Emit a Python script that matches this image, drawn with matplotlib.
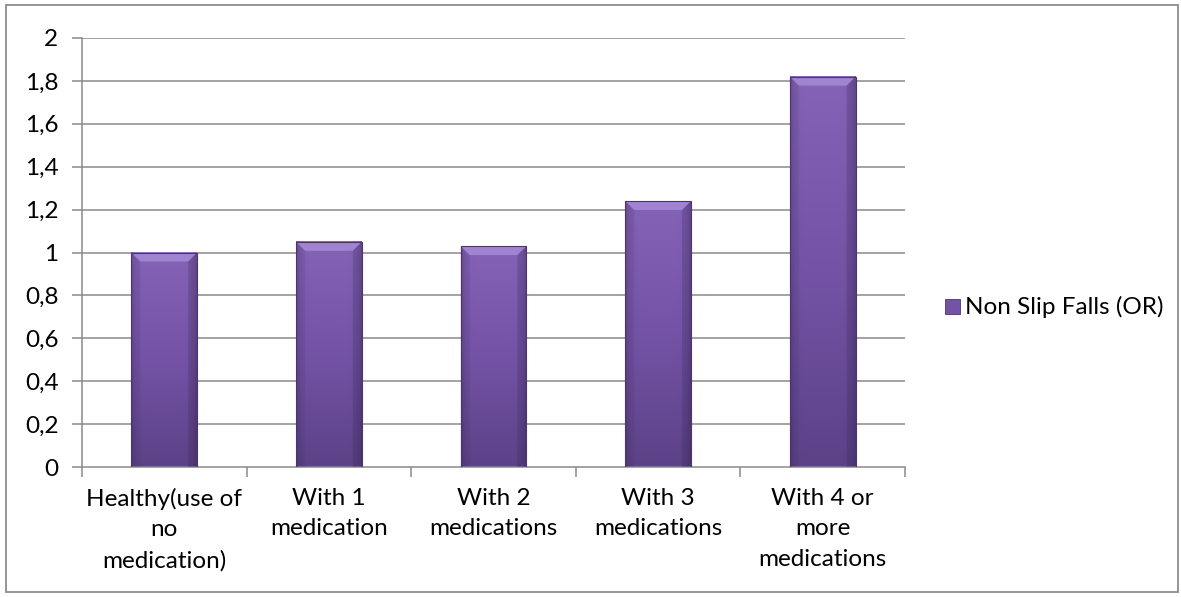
import matplotlib
matplotlib.use("Agg")
import matplotlib.pyplot as plt
import numpy as np
from matplotlib.patches import Rectangle, Polygon
from matplotlib.colors import LinearSegmentedColormap

categories = ["Healthy(use of\nno\nmedication)", "With 1\nmedication", "With 2\nmedications",
              "With 3\nmedications", "With 4 or\nmore\nmedications"]
values = [1.0, 1.05, 1.03, 1.24, 1.82]
series_name = "Non Slip Falls (OR)"
yticks = [0, 0.2, 0.4, 0.6, 0.8, 1.0, 1.2, 1.4, 1.6, 1.8, 2.0]

plt.rcParams["font.family"] = ["Lato", "DejaVu Sans"]
FS = 17.5

W, H = 1181, 597
fig = plt.figure(figsize=(W / 100, H / 100), dpi=100)
ax = fig.add_axes([82 / W, 1 - 467 / H, (905 - 82) / W, (467 - 38) / H])

# outer chart border
fig.patches.append(Rectangle((6 / W, 5 / H), 1172 / W, 587 / H, transform=fig.transFigure,
                             fill=False, edgecolor="#8c8c8c", linewidth=1.3))

ax.set_xlim(0, len(categories))
ax.set_ylim(0, 2)
grid_col = "#8a8a8a"
for t in yticks[1:]:
    ax.axhline(t, color=grid_col, linewidth=1.1, zorder=1)

cmap = LinearSegmentedColormap.from_list("bar", ["#5c4287", "#7453a6", "#8563b7"])
bar_w = 0.4
px_y = 2 / 429.0
px_x = len(categories) / 823.0
bevel = 9
x = np.arange(len(categories)) + 0.5
for xc, v in zip(x, values):
    x0, x1 = xc - bar_w / 2, xc + bar_w / 2
    # vertical gradient body with slightly darker sides
    grad = np.linspace(0, 1, 256).reshape(-1, 1)
    horiz = 1 - 0.18 * np.abs(np.linspace(-1, 1, 64)) ** 8
    img = cmap(grad * np.ones((1, 64)))
    img[..., :3] *= horiz[None, :, None]
    ax.imshow(img, extent=[x0, x1, 0, v], origin="lower", aspect="auto", zorder=2,
              interpolation="bilinear")
    # beveled top
    bx, by = bevel * px_x, bevel * px_y
    ax.add_patch(Polygon([(x0, v), (x1, v), (x1 - bx, v - by), (x0 + bx, v - by)],
                         closed=True, facecolor="#a084d2", edgecolor="none", zorder=3))
    ax.add_patch(Polygon([(x0, v), (x0 + bx, v - by), (x0 + bx, 0), (x0, 0)],
                         closed=True, facecolor="#4e3775", alpha=0.15, edgecolor="none", zorder=3))
    ax.add_patch(Polygon([(x1, v), (x1 - bx, v - by), (x1 - bx, 0), (x1, 0)],
                         closed=True, facecolor="#3d2a5e", alpha=0.25, edgecolor="none", zorder=3))
    ax.add_patch(Rectangle((x0, 0), bar_w, v, fill=False, edgecolor="#4a3570",
                           linewidth=0.8, zorder=4))

ax.set_xlim(0, len(categories))
ax.set_ylim(0, 2)
ax.set_yticks(yticks)
ax.set_yticklabels([("%g" % t).replace(".", ",") for t in yticks], fontsize=FS)
ax.set_xticks(np.arange(len(categories) + 1))
ax.set_xticklabels([])
ax.set_xticks(x, minor=True)
ax.set_xticklabels(categories, minor=True, fontsize=FS, linespacing=1.56, va="top")
ax.tick_params(axis="x", which="minor", length=0, pad=15)
ax.tick_params(axis="x", which="major", length=7, color=grid_col, width=1.1, direction="out")
ax.tick_params(axis="y", length=7, color=grid_col, width=1.1, direction="out", pad=10)
for s in ["top", "right"]:
    ax.spines[s].set_visible(False)
for s in ["left", "bottom"]:
    ax.spines[s].set_color(grid_col)
    ax.spines[s].set_linewidth(1.1)
ax.set_facecolor("white")

# legend
fig.patches.append(Rectangle((945 / W, 1 - 314 / H), 15 / W, 15 / H, transform=fig.transFigure,
                             facecolor="#7453a6", edgecolor="#4a3570", linewidth=0.6))
fig.text(965 / W, 1 - 307 / H, series_name, fontsize=FS, va="center", ha="left")

fig.savefig("out.png", dpi=100, facecolor="white")
